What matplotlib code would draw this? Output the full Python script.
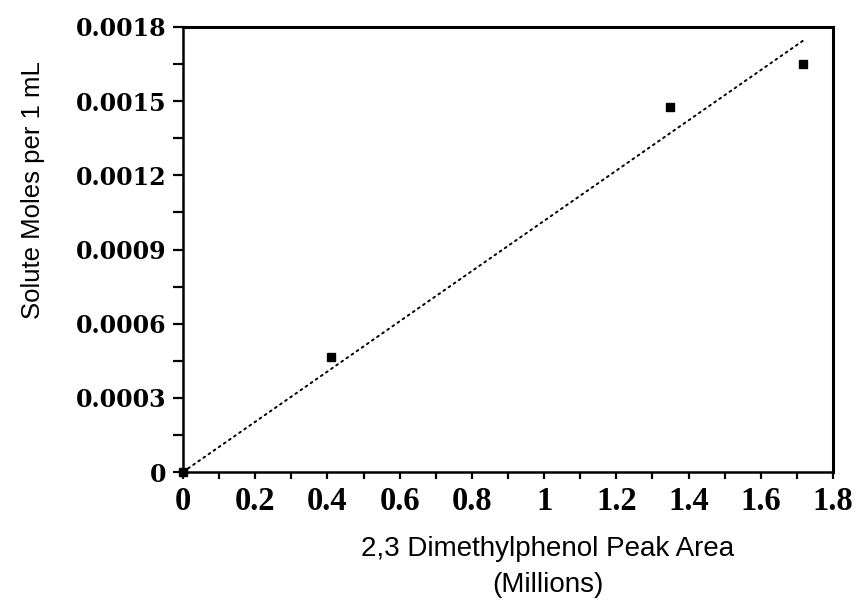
import numpy as np
import matplotlib
matplotlib.use("Agg")
import matplotlib.pyplot as plt
from matplotlib.ticker import MultipleLocator

# Calibration data: peak area (millions) vs solute moles per 1 mL
peak_area_millions = [0.0, 0.409, 1.349, 1.717]
solute_moles = [0.0, 0.000465, 0.001476, 0.00165]

x_ticks = [0, 0.2, 0.4, 0.6, 0.8, 1, 1.2, 1.4, 1.6, 1.8]
x_tick_labels = ["0", "0.2", "0.4", "0.6", "0.8", "1", "1.2", "1.4", "1.6", "1.8"]
y_ticks = [0, 0.0003, 0.0006, 0.0009, 0.0012, 0.0015, 0.0018]
y_tick_labels = ["0", "0.0003", "0.0006", "0.0009", "0.0012", "0.0015", "0.0018"]

fig = plt.figure(figsize=(8.58, 6.13), dpi=100)
W, H = 858, 613
left, right, top, bottom = 183, 833, 27, 472
ax = fig.add_axes([left / W, 1 - bottom / H, (right - left) / W, (bottom - top) / H])

xs = np.array(peak_area_millions)
ys = np.array(solute_moles)

# least-squares line forced through the origin
slope = np.sum(xs * ys) / np.sum(xs * xs)
fit_x = np.array([0.0, xs.max()])
ax.plot(fit_x, slope * fit_x, color="black", lw=1.4, linestyle=(0, (1, 2.2)),
        dash_capstyle="round", clip_on=False, zorder=2)

ax.plot(xs, ys, linestyle="none", marker="s", ms=6, color="black",
        clip_on=False, zorder=3)

ax.set_xlim(0, 1.8)
ax.set_ylim(0, 0.0018)
ax.set_xticks(x_ticks)
ax.set_xticklabels(x_tick_labels)
ax.set_yticks(y_ticks)
ax.set_yticklabels(y_tick_labels)
ax.xaxis.set_minor_locator(MultipleLocator(0.1))
ax.yaxis.set_minor_locator(MultipleLocator(0.00015))

for side in ["top", "right"]:
    ax.spines[side].set_linewidth(2.2)
for side in ["left", "bottom"]:
    ax.spines[side].set_linewidth(1.8)

ax.tick_params(axis="x", which="both", direction="out", length=5, width=1.6, pad=5)
ax.tick_params(axis="y", which="both", direction="out", length=7, width=1.6, pad=5)

for lbl in ax.get_xticklabels():
    lbl.set_fontfamily("Liberation Serif")
    lbl.set_fontweight("bold")
    lbl.set_fontsize(23.5)
for lbl in ax.get_yticklabels():
    lbl.set_fontfamily("DejaVu Serif")
    lbl.set_fontweight("bold")
    lbl.set_fontsize(17)

fig.text(33 / W, 1 - 190 / H, "Solute Moles per 1 mL", rotation=90,
         ha="center", va="center", fontsize=18.5, fontfamily="Liberation Sans")
fig.text(548 / W, 1 - 549 / H, "2,3 Dimethylphenol Peak Area",
         ha="center", va="center", fontsize=20, fontfamily="Liberation Sans")
fig.text(548 / W, 1 - 585 / H, "(Millions)",
         ha="center", va="center", fontsize=20, fontfamily="Liberation Sans")

fig.savefig("out.png", dpi=100)
